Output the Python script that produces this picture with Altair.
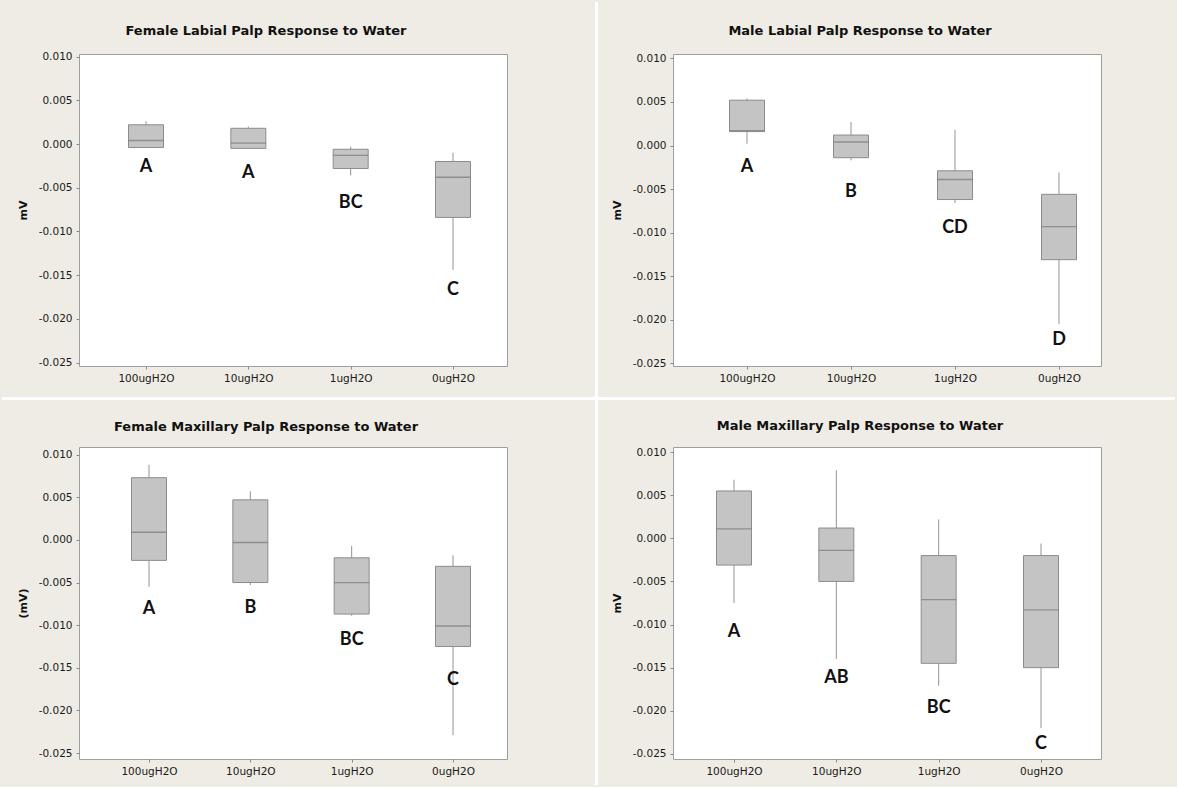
import altair as alt
import pandas as pd

# Treatment groups along the x axis
doses = ["100ugH2O", "10ugH2O", "1ugH2O", "0ugH2O"]

# Female labial palp: box-plot summaries (mV)
fl_hi = [0.0026, 0.0020, -0.0003, -0.0010]
fl_q3 = [0.0022, 0.0018, -0.0006, -0.0020]
fl_med = [0.0004, 0.0001, -0.0013, -0.0038]
fl_q1 = [-0.0004, -0.0005, -0.0028, -0.0084]
fl_lo = [-0.0004, -0.0005, -0.0036, -0.0144]
fl_grp = ["A", "A", "BC", "C"]
fl_grp_y = [-0.0026, -0.0033, -0.0067, -0.0167]

# Male labial palp
ml_hi = [0.0054, 0.0027, 0.0018, -0.0031]
ml_q3 = [0.0052, 0.0012, -0.0029, -0.0056]
ml_med = [0.0017, 0.0004, -0.0039, -0.0093]
ml_q1 = [0.0016, -0.0014, -0.0062, -0.0131]
ml_lo = [0.0002, -0.0017, -0.0066, -0.0205]
ml_grp = ["A", "B", "CD", "D"]
ml_grp_y = [-0.0025, -0.0053, -0.0095, -0.0223]

# Female maxillary palp
fm_hi = [0.0088, 0.0057, -0.0007, -0.0018]
fm_q3 = [0.0073, 0.0047, -0.0021, -0.0031]
fm_med = [0.0009, -0.0003, -0.0050, -0.0101]
fm_q1 = [-0.0024, -0.0050, -0.0087, -0.0125]
fm_lo = [-0.0055, -0.0053, -0.0089, -0.0229]
fm_grp = ["A", "B", "BC", "C"]
fm_grp_y = [-0.0081, -0.0080, -0.0117, -0.0164]

# Male maxillary palp
mm_hi = [0.0068, 0.0079, 0.0022, -0.0006]
mm_q3 = [0.0055, 0.0012, -0.0020, -0.0020]
mm_med = [0.0011, -0.0014, -0.0071, -0.0083]
mm_q1 = [-0.0031, -0.0050, -0.0145, -0.0150]
mm_lo = [-0.0075, -0.0140, -0.0171, -0.0220]
mm_grp = ["A", "AB", "BC", "C"]
mm_grp_y = [-0.0109, -0.0162, -0.0197, -0.0239]

y_ticks = [-0.025, -0.02, -0.015, -0.01, -0.005, 0.0, 0.005, 0.01]

W, H = 428, 312
FONT = "DejaVu Sans"
BG = "#EEECE4"


def panel(title, ytitle, hi, q3, med, q1, lo, grp, grp_y, ydom, xrange, title_dy,
          separators=False):
    df = pd.DataFrame({"dose": doses, "hi": hi, "q3": q3, "med": med,
                       "q1": q1, "lo": lo, "grp": grp, "grp_y": grp_y})
    xs = alt.Scale(type="point", domain=doses, range=xrange, padding=0)
    xa = alt.Axis(title=None, labelAngle=0, labelFont=FONT, labelFontSize=10.5,
                  labelColor="#1a1a1a", tickSize=3, tickColor="#8a8a8a",
                  labelPadding=4, domain=False, grid=False)
    ys = alt.Scale(domain=ydom, nice=False, zero=False)
    ya = alt.Axis(values=y_ticks,
                  labelExpr="replace(format(datum.value, '.3f'), '\u2212', '-')",
                  labelFont=FONT, labelFontSize=10.5, labelColor="#1a1a1a",
                  tickSize=3, tickColor="#8a8a8a", labelPadding=4, domain=False,
                  grid=False, titleFont=FONT, titleFontSize=11, titleFontWeight="bold",
                  titleColor="#111111", titleX=-56, titleY=H / 2,
                  titleBaseline="middle", titleAlign="center", titleAngle=270)
    X = alt.X("dose:N", scale=xs, axis=xa, sort=doses)

    def Y(field):
        return alt.Y(field, type="quantitative", scale=ys, axis=ya, title=ytitle)

    base = alt.Chart(df)
    whisk = base.mark_rule(color="#939393", strokeWidth=1).encode(
        x=X, y=Y("lo"), y2="hi")
    box = base.mark_bar(size=35, color="#C4C4C4", stroke="#8C8C8C",
                        strokeWidth=1).encode(x=X, y=Y("q1"), y2="q3")
    mid = base.mark_tick(size=35, thickness=1.3, color="#777777").encode(
        x=X, y=Y("med"))
    lab = base.mark_text(font="Lato", fontWeight="bold", fontSize=18,
                         color="#111111").encode(x=X, y=Y("grp_y"), text="grp:N")
    head = alt.Chart(pd.DataFrame({"t": [title]})).mark_text(
        font=FONT, fontSize=13, fontWeight="bold", color="#111111",
        align="center", baseline="middle").encode(
        x=alt.value(W / 2 - 27), y=alt.value(title_dy), text="t:N")
    layers = [whisk, box, mid, lab, head]
    if separators:
        # white gutters between the four panels
        one = pd.DataFrame({"k": [0]})
        vline = alt.Chart(one).mark_rule(color="white", strokeWidth=3).encode(
            x=alt.value(517.5), y=alt.value(-52), y2=alt.value(731))
        hline = alt.Chart(one).mark_rule(color="white", strokeWidth=3).encode(
            y=alt.value(344.5), x=alt.value(-77), x2=alt.value(1096))
        layers = [vline, hline] + layers
    return alt.layer(*layers).properties(width=W, height=H)


p1 = panel("Female Labial Palp Response to Water", "mV",
           fl_hi, fl_q3, fl_med, fl_q1, fl_lo, fl_grp, fl_grp_y,
           [-0.0254, 0.0103], [67, 374], -23, separators=True)
p2 = panel("Male Labial Palp Response to Water", "mV",
           ml_hi, ml_q3, ml_med, ml_q1, ml_lo, ml_grp, ml_grp_y,
           [-0.0253, 0.0105], [74, 386], -23)
p3 = panel("Female Maxillary Palp Response to Water", "(mV)",
           fm_hi, fm_q3, fm_med, fm_q1, fm_lo, fm_grp, fm_grp_y,
           [-0.0257, 0.0109], [70, 374], -20)
p4 = panel("Male Maxillary Palp Response to Water", "mV",
           mm_hi, mm_q3, mm_med, mm_q1, mm_lo, mm_grp, mm_grp_y,
           [-0.0256, 0.0106], [61, 368], -21)

chart = alt.concat(p1, p2, p3, p4, columns=2,
                   spacing={"row": 81, "column": 166}, bounds="flush").properties(
    background=BG,
    padding={"left": 0, "top": 0, "right": 0, "bottom": 0},
).configure_view(fill="white", stroke="#9E9E9E", strokeWidth=1)

chart.save("out.html", embed_options={"renderer": "svg", "actions": False})
